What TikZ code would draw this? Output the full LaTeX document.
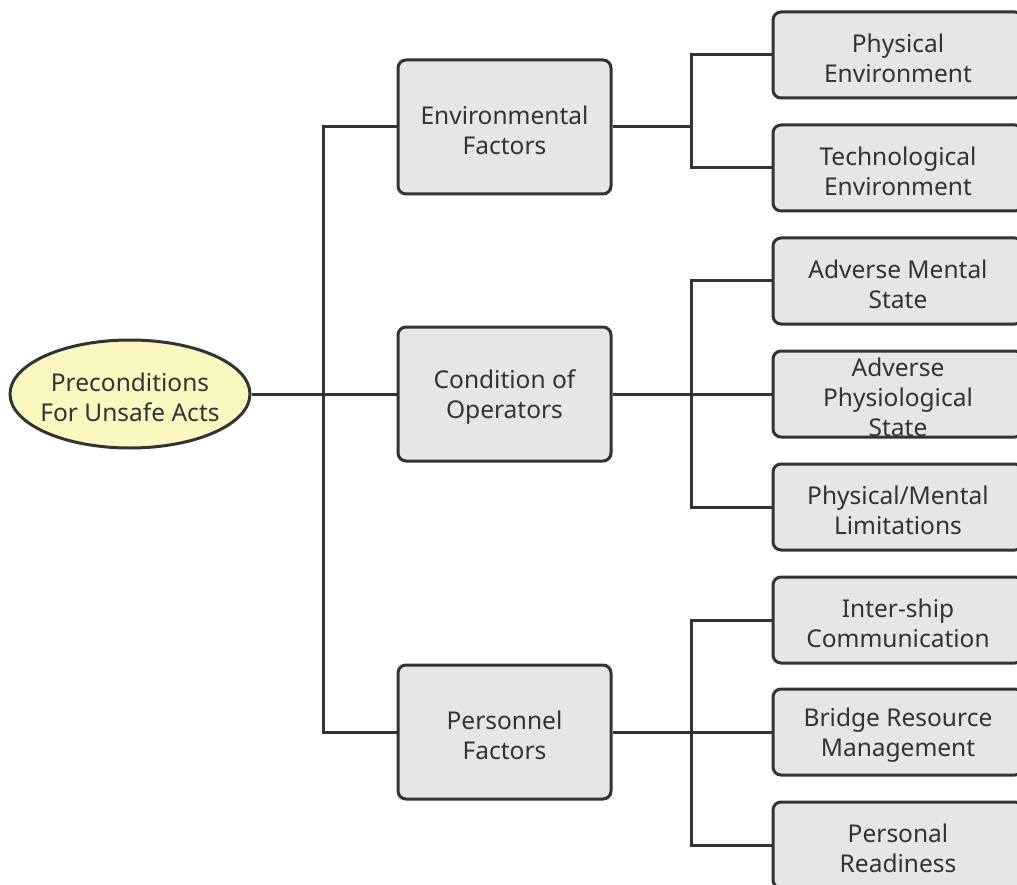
\documentclass[tikz,border=0pt]{standalone}
\usepackage{fontspec}
\setmainfont{Noto Sans}
\usetikzlibrary{shapes.geometric}
\definecolor{inkline}{HTML}{333333}
\definecolor{inktext}{HTML}{333333}
\definecolor{boxfill}{HTML}{E6E6E6}
\definecolor{rootfill}{HTML}{FAF7C0}
\tikzset{
  base/.style={draw=inkline, line width=3pt, inner sep=0pt},
  txt/.style={text=inktext, align=center, inner sep=0pt, yshift=-3pt,
    font=\fontsize{24.5}{30}\selectfont},
  rootnode/.style={base, ellipse, fill=rootfill, minimum width=240pt, minimum height=108pt},
  midbox/.style={base, rectangle, rounded corners=8pt, fill=boxfill, minimum width=213pt, minimum height=134pt},
  leafbox/.style={base, rectangle, rounded corners=8pt, fill=boxfill, minimum width=250pt, minimum height=86pt},
  link/.style={draw=inkline, line width=3pt},
}
\begin{document}
\begin{tikzpicture}[x=1pt, y=-1pt]
\useasboundingbox (0,0) rectangle (1017,885);
\clip (0,0) rectangle (1017,885);

% root
\node[rootnode, label={[txt]center:{Preconditions\\For Unsafe Acts}}] (root) at (130,394) {};

% middle level
\node[midbox, label={[txt]center:{Environmental\\Factors}}] (env)  at (504.5,127) {};
\node[midbox, label={[txt]center:{Condition of\\Operators}}] (cond) at (504.5,394) {};
\node[midbox, label={[txt]center:{Personnel\\Factors}}] (pers) at (504.5,732) {};

% leaves
\node[leafbox, label={[txt]center:{Physical\\Environment}}] (phys) at (898,55) {};
\node[leafbox, label={[txt]center:{Technological\\Environment}}] (tech) at (898,168) {};
\node[leafbox, label={[txt]center:{Adverse Mental\\State}}] (ment) at (898,281) {};
\node[leafbox, label={[txt]center:{Adverse\\Physiological\\State}}] (phsl) at (898,394) {};
\node[leafbox, label={[txt]center:{Physical/Mental\\Limitations}}] (lim) at (898,507) {};
\node[leafbox, label={[txt]center:{Inter-ship\\Communication}}] (comm) at (898,620) {};
\node[leafbox, label={[txt]center:{Bridge Resource\\Management}}] (brm) at (898,732) {};
\node[leafbox, label={[txt]center:{Personal\\Readiness}}] (read) at (898,845) {};

% junction points
\coordinate (trunk) at (323,394);
\coordinate (jenv)  at (691,127);
\coordinate (jcond) at (691,394);
\coordinate (jpers) at (691,732);

% connectors
\path[link] (root.east) -- (trunk);
\path[link] (trunk) |- (env.west);
\path[link] (trunk) |- (pers.west);
\path[link] (trunk) -- (cond.west);

\path[link] (env.east) -- (jenv);
\path[link] (jenv) |- (phys.west);
\path[link] (jenv) |- (tech.west);

\path[link] (cond.east) -- (jcond);
\path[link] (jcond) |- (ment.west);
\path[link] (jcond) |- (lim.west);
\path[link] (jcond) -- (phsl.west);

\path[link] (pers.east) -- (jpers);
\path[link] (jpers) |- (comm.west);
\path[link] (jpers) |- (read.west);
\path[link] (jpers) -- (brm.west);
\end{tikzpicture}
\end{document}
